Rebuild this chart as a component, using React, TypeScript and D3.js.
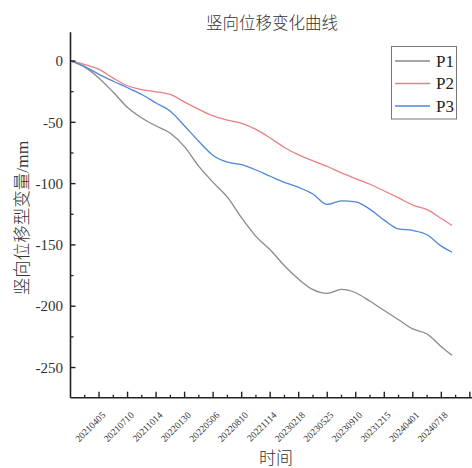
import React from "react";
import * as d3 from "d3";

// Sample positions (category index along the time axis; 12-day acquisitions)
const sampleIdx = [0, 4, 8, 12, 16, 20, 24, 28, 32, 36, 40, 44, 48, 52, 56, 60, 64, 68, 72, 76, 80, 84, 88, 92, 96, 100, 104, 107];

const p1 = [0, -5, -14, -25.5, -38, -46.5, -53, -59, -70, -86, -99, -111, -128, -143, -154, -167, -178, -186.5, -189.5, -186.3, -189, -196, -203.5, -211, -218.5, -222.6, -233, -240];
const p2 = [0, -2.9, -6.9, -14, -20.2, -23.3, -25.1, -27.3, -33.6, -39.4, -44.8, -48.2, -50.9, -55.8, -62.8, -70.5, -76.6, -81.5, -86, -91.3, -96, -100.5, -106, -111.7, -117.5, -121.2, -128.5, -134.2];
const p3 = [0, -4.5, -10.9, -16.5, -21.8, -27.3, -34.3, -41, -53, -65.6, -77, -82.4, -84.6, -88.9, -94, -99, -103, -108.5, -117, -114, -114.9, -121, -129.8, -137, -138.2, -141.7, -151, -156];

const seriesNames = ["P1", "P2", "P3"];
const seriesColors = ["#8a8a8a", "#ea8084", "#4f86d9"];

const dateLabels = ["20210405", "20210710", "20211014", "20220130", "20220506", "20220810", "20221114", "20230218", "20230525", "20230910", "20231215", "20240401", "20240718"];
const labelEvery = 8;

const yTicks = [0, -50, -100, -150, -200, -250];
const yMinorTicks = [-25, -75, -125, -175, -225];

const W = 472;
const H = 468;

export default function App() {
  const x = d3.scaleLinear().domain([0, 112.6]).range([70.5, 472]);
  const y = d3.scaleLinear().domain([-274.6, 23.4]).range([397.7, 32.3]);
  const x0 = x(0);
  const yb = y(-274.6);

  const line = d3
    .line<number>()
    .x((_, i) => x(sampleIdx[i]))
    .y((d) => y(d))
    .curve(d3.curveMonotoneX);

  const series = [p1, p2, p3];

  const majorX: number[] = [];
  for (let i = labelEvery; i <= 112; i += labelEvery) majorX.push(i);
  const minorX: number[] = [];
  for (let i = labelEvery / 2; i <= 112; i += labelEvery) minorX.push(i);

  const serif = "'Liberation Serif', 'Times New Roman', 'Noto Sans CJK SC', serif";
  const cjk = "'Liberation Serif', 'Noto Sans CJK SC', serif";
  const axisColor = "#222";

  return (
    <svg width={W} height={H} style={{ position: "absolute", left: 0, top: 0, background: "#fff" }}>
      <rect width={W} height={H} fill="#fff" />
      {/* title */}
      <text x={272} y={29} textAnchor="middle" fontFamily={cjk} fontWeight={300} fontSize={16.5} fill="#333">
        竖向位移变化曲线
      </text>

      {/* lines */}
      {series.map((s, k) => (
        <path key={k} d={line(s) || ""} fill="none" stroke={seriesColors[k]} strokeWidth={1.3} />
      ))}

      {/* y axis */}
      <line x1={x0} x2={x0} y1={y(23.4)} y2={yb} stroke={axisColor} strokeWidth={1.6} />
      {yTicks.map((t) => (
        <g key={t}>
          <line x1={x0} x2={x0 + 5} y1={y(t)} y2={y(t)} stroke={axisColor} strokeWidth={1.4} />
          <text x={63} y={y(t)} dy="0.35em" textAnchor="end" fontFamily={serif} fontSize={15} fill="#333">
            {t === 0 ? "0" : "-" + Math.abs(t)}
          </text>
        </g>
      ))}
      {yMinorTicks.map((t) => (
        <line key={t} x1={x0} x2={x0 + 3} y1={y(t)} y2={y(t)} stroke={axisColor} strokeWidth={1.3} />
      ))}

      {/* x axis */}
      <line x1={x0} x2={W} y1={yb} y2={yb} stroke={axisColor} strokeWidth={1.6} />
      {majorX.map((t) => (
        <line key={"M" + t} x1={x(t)} x2={x(t)} y1={yb} y2={yb - 6} stroke={axisColor} strokeWidth={1.4} />
      ))}
      {minorX.map((t) => (
        <line key={"m" + t} x1={x(t)} x2={x(t)} y1={yb} y2={yb - 3} stroke={axisColor} strokeWidth={1.3} />
      ))}
      {dateLabels.map((lab, i) => {
        const tx = x((i + 1) * labelEvery) + 7;
        const ty = yb + 18;
        return (
          <text
            key={lab}
            x={tx}
            y={ty}
            textAnchor="end"
            transform={`rotate(-45, ${tx}, ${ty})`}
            fontFamily={serif}
            fontSize={9.5}
            fill="#333"
          >
            {lab}
          </text>
        );
      })}

      {/* axis titles */}
      <text x={276} y={464} textAnchor="middle" fontFamily={cjk} fontWeight={300} fontSize={17} fill="#333">
        时间
      </text>
      <text
        x={0}
        y={0}
        transform={`translate(28, 218) rotate(-90)`}
        textAnchor="middle"
        fontFamily={cjk}
        fontWeight={300}
        fontSize={17.5}
        fill="#333"
      >
        竖向位移型变量/mm
      </text>

      {/* legend */}
      <rect x={391.5} y={46.5} width={65} height={72.5} fill="#fff" stroke="#777" strokeWidth={1} />
      {seriesNames.map((n, k) => {
        const ly = 61 + k * 22.5;
        return (
          <g key={n}>
            <line x1={395} x2={430} y1={ly} y2={ly} stroke={seriesColors[k]} strokeWidth={1.3} />
            <text x={436} y={ly} dy="0.35em" fontFamily={serif} fontSize={17} fill="#222">
              {n}
            </text>
          </g>
        );
      })}
    </svg>
  );
}
